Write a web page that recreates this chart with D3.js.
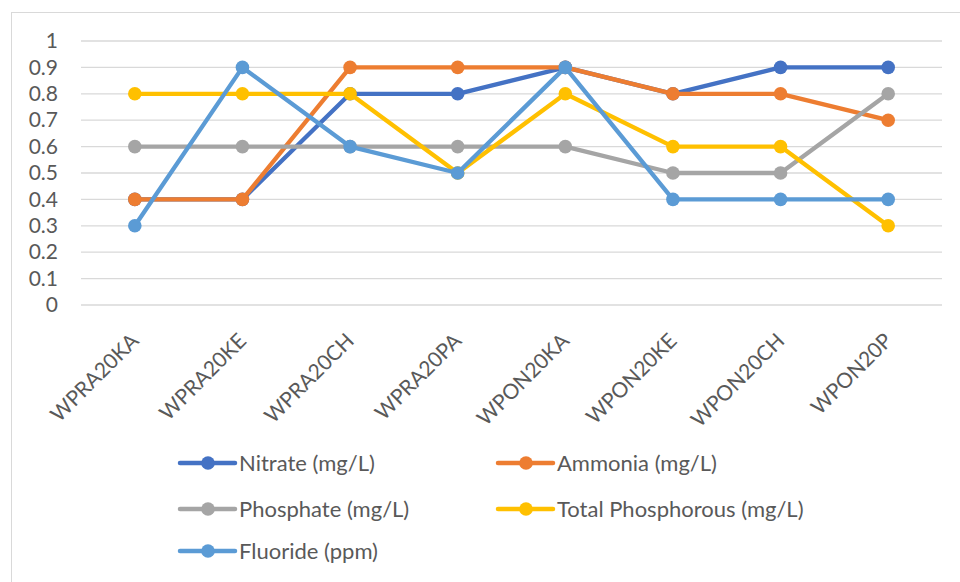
<!DOCTYPE html>
<html><head><meta charset="utf-8">
<script src="https://cdn.jsdelivr.net/npm/d3@7"></script>
<style>body{margin:0;background:#fff}svg{display:block}text{font-family:Lato,"Open Sans",sans-serif;fill:#595959}</style>
</head><body><svg id="c" width="960" height="582"></svg>
<script>
const categories = ["WPRA20KA","WPRA20KE","WPRA20CH","WPRA20PA","WPON20KA","WPON20KE","WPON20CH","WPON20P"];
const nitrate   = [0.4,0.4,0.8,0.8,0.9,0.8,0.9,0.9];
const ammonia   = [0.4,0.4,0.9,0.9,0.9,0.8,0.8,0.7];
const phosphate = [0.6,0.6,0.6,0.6,0.6,0.5,0.5,0.8];
const totalP    = [0.8,0.8,0.8,0.5,0.8,0.6,0.6,0.3];
const fluoride  = [0.3,0.9,0.6,0.5,0.9,0.4,0.4,0.4];
const seriesNames = ["Nitrate (mg/L)","Ammonia (mg/L)","Phosphate (mg/L)","Total Phosphorous (mg/L)","Fluoride (ppm)"];
const colors = ["#4472C4","#ED7D31","#A5A5A5","#FFC000","#5B9BD5"];
const yTicks = [0,0.1,0.2,0.3,0.4,0.5,0.6,0.7,0.8,0.9,1];

const series = [nitrate, ammonia, phosphate, totalP, fluoride].map((v,i)=>({name:seriesNames[i], color:colors[i], values:v}));
const svg = d3.select("#c");
svg.append("rect").attr("x",11.5).attr("y",12.5).attr("width",960).attr("height",600)
  .attr("fill","#fff").attr("stroke","#d9d9d9").attr("stroke-width",1);

const x = d3.scalePoint().domain(categories).range([81,942]).padding(0.5);
const y = d3.scaleLinear().domain([0,1]).range([305,41]);

// gridlines
svg.append("g").selectAll("line").data(yTicks).join("line")
  .attr("x1",81).attr("x2",942).attr("y1",d=>y(d)).attr("y2",d=>y(d))
  .attr("stroke","#d9d9d9").attr("stroke-width",1.3);

// y axis
const ya = svg.append("g").attr("transform","translate(81,0)")
  .call(d3.axisLeft(y).tickValues(yTicks).tickSize(0).tickPadding(23).tickFormat(d=>d3.format("~g")(d)));
ya.select(".domain").remove();
ya.selectAll("text").style("font-size","21px").attr("fill","#595959");

// x axis labels
const xa = svg.append("g").attr("transform","translate(0,305)");
xa.selectAll("text").data(categories).join("text")
  .attr("transform",d=>`translate(${x(d)},${32}) rotate(-45)`)
  .attr("text-anchor","end").attr("dy","0.35em")
  .style("font-size","21px").text(d=>d);

// lines
const line = d3.line().x((d,i)=>x(categories[i])).y(d=>y(d));
const g = svg.append("g");
series.forEach(s=>{
  g.append("path").datum(s.values).attr("d",line).attr("fill","none")
    .attr("stroke",s.color).attr("stroke-width",4.3).attr("stroke-linejoin","round").attr("stroke-linecap","round");
  g.append("g").selectAll("circle").data(s.values).join("circle")
    .attr("cx",(d,i)=>x(categories[i])).attr("cy",d=>y(d)).attr("r",6.8).attr("fill",s.color);
});

// legend
const legPos = [[180,463],[498,463],[180,509],[498,509],[180,551]];
series.forEach((s,i)=>{
  const [lx,ly] = legPos[i];
  const lg = svg.append("g").attr("transform",`translate(${lx},${ly})`);
  lg.append("line").attr("x1",0).attr("x2",55).attr("y1",0).attr("y2",0).attr("stroke",s.color).attr("stroke-width",4.5).attr("stroke-linecap","round");
  lg.append("circle").attr("cx",28).attr("cy",0).attr("r",6.8).attr("fill",s.color);
  lg.append("text").attr("x",59).attr("y",0).attr("dy","0.35em").style("font-size","22px").text(s.name);
});
</script></body></html>
